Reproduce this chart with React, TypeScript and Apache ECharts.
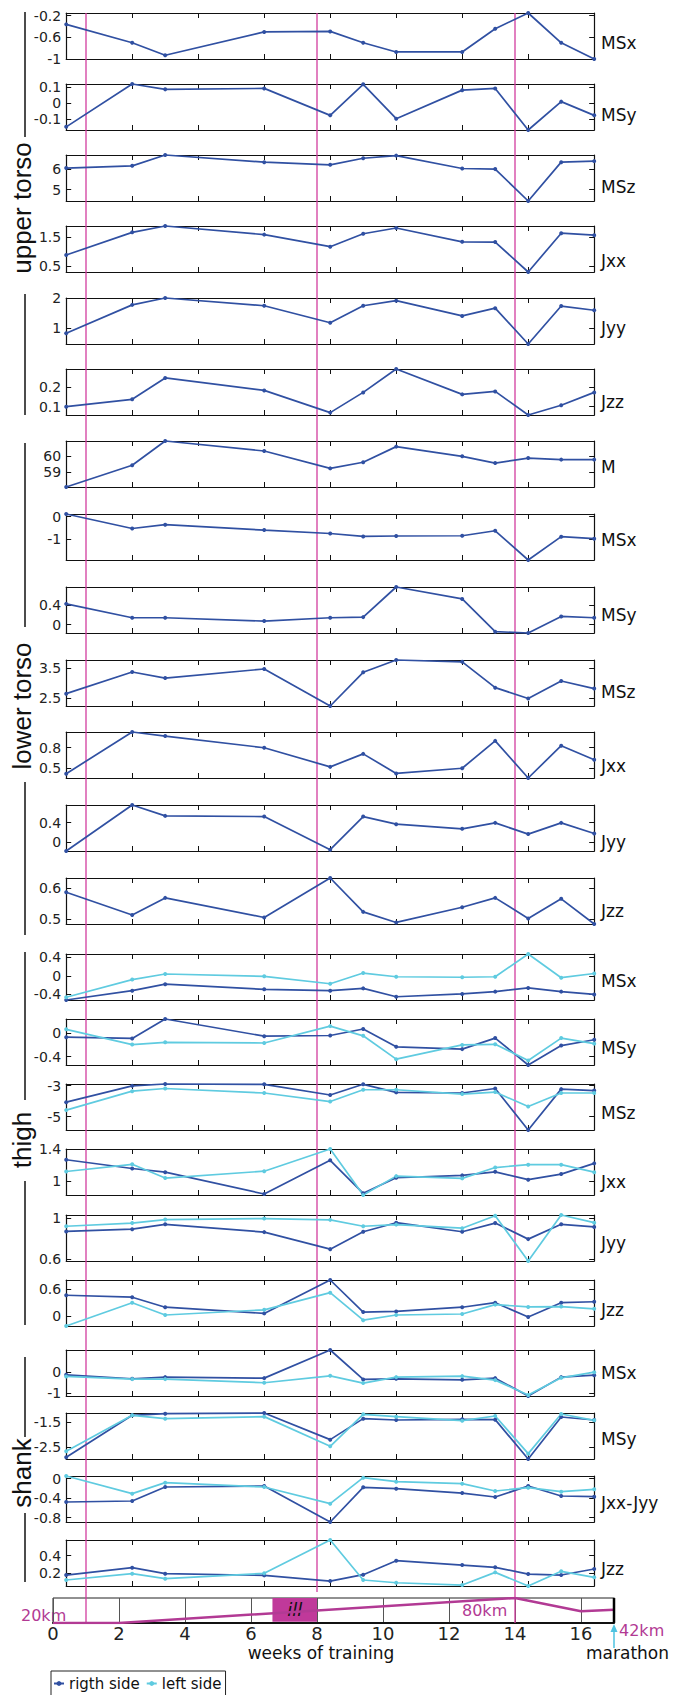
import React, { useEffect, useRef } from "react";
import * as echarts from "echarts";

// ---------- data ----------
const weeks = [0.4, 2.4, 3.4, 6.4, 8.4, 9.4, 10.4, 12.4, 13.4, 14.4, 15.4, 16.4];
const panelTicksX = [2.4, 4.4, 6.4, 8.4, 10.4, 12.4, 14.4];

// upper torso (single series)
const upperMSx = [-0.36, -0.70, -0.93, -0.50, -0.49, -0.70, -0.87, -0.87, -0.44, -0.15, -0.70, -1.0];
const upperMSy = [-0.15, 0.122, 0.088, 0.094, -0.077, 0.12, -0.098, 0.083, 0.094, -0.17, 0.01, -0.077];
const upperMSz = [6.05, 6.16, 6.69, 6.34, 6.21, 6.53, 6.66, 6.03, 6.0, 4.44, 6.34, 6.39];
const upperJxx = [0.88, 1.67, 1.89, 1.59, 1.17, 1.62, 1.82, 1.34, 1.33, 0.29, 1.64, 1.57];
const upperJyy = [0.82, 1.77, 2.0, 1.74, 1.17, 1.74, 1.91, 1.4, 1.66, 0.46, 1.73, 1.59];
const upperJzz = [0.1, 0.137, 0.245, 0.182, 0.07, 0.172, 0.29, 0.162, 0.177, 0.058, 0.107, 0.172];
// lower torso (single series)
const lowerM = [58.04, 59.43, 60.98, 60.34, 59.23, 59.62, 60.62, 60.0, 59.57, 59.89, 59.79, 59.79];
const lowerMSx = [0.12, -0.52, -0.35, -0.59, -0.74, -0.87, -0.85, -0.84, -0.62, -1.91, -0.88, -0.97];
const lowerMSy = [0.42, 0.14, 0.14, 0.073, 0.14, 0.153, 0.76, 0.52, -0.14, -0.167, 0.167, 0.14];
const lowerMSz = [2.64, 3.36, 3.16, 3.46, 2.23, 3.35, 3.76, 3.7, 2.84, 2.48, 3.06, 2.81];
const lowerJxx = [0.42, 1.03, 0.97, 0.8, 0.52, 0.71, 0.424, 0.5, 0.9, 0.357, 0.83, 0.624];
const lowerJyy = [-0.183, 0.759, 0.536, 0.522, -0.156, 0.522, 0.366, 0.271, 0.393, 0.163, 0.393, 0.176];
const lowerJzz = [0.586, 0.513, 0.568, 0.505, 0.632, 0.523, 0.489, 0.538, 0.568, 0.502, 0.565, 0.484];
// thigh (right / left)
const thighMSxR = [-0.52, -0.32, -0.18, -0.29, -0.32, -0.27, -0.45, -0.39, -0.34, -0.26, -0.34, -0.4];
const thighMSxL = [-0.46, -0.08, 0.04, -0.01, -0.17, 0.06, -0.02, -0.03, -0.02, 0.47, -0.04, 0.05];
const thighMSyR = [-0.067, -0.089, 0.244, -0.05, -0.039, 0.072, -0.233, -0.272, -0.083, -0.544, -0.211, -0.111];
const thighMSyL = [0.067, -0.194, -0.156, -0.167, 0.122, -0.044, -0.444, -0.2, -0.189, -0.467, -0.083, -0.178];
const thighMSzR = [-4.07, -3.02, -2.9, -2.92, -3.61, -2.92, -3.44, -3.48, -3.19, -5.86, -3.23, -3.32];
const thighMSzL = [-4.58, -3.36, -3.19, -3.48, -4.03, -3.27, -3.27, -3.55, -3.42, -4.35, -3.48, -3.48];
const thighJxxR = [1.267, 1.158, 1.113, 0.842, 1.26, 0.851, 1.044, 1.073, 1.117, 1.02, 1.089, 1.222];
const thighJxxL = [1.121, 1.21, 1.04, 1.125, 1.4, 0.83, 1.064, 1.036, 1.17, 1.206, 1.206, 1.113];
const thighJyyR = [0.87, 0.892, 0.94, 0.863, 0.695, 0.867, 0.956, 0.867, 0.952, 0.794, 0.94, 0.914];
const thighJyyL = [0.921, 0.952, 0.987, 0.997, 0.984, 0.921, 0.937, 0.902, 1.025, 0.578, 1.032, 0.956];
const thighJzzR = [0.464, 0.421, 0.2, 0.064, 0.8, 0.093, 0.107, 0.2, 0.3, -0.014, 0.3, 0.321];
const thighJzzL = [-0.214, 0.3, 0.029, 0.143, 0.521, -0.086, 0.029, 0.05, 0.257, 0.207, 0.214, 0.164];
// shank (right / left)
const shankMSxR = [-0.127, -0.317, -0.238, -0.286, 1.063, -0.349, -0.317, -0.365, -0.286, -1.143, -0.238, -0.143];
const shankMSxL = [-0.206, -0.333, -0.333, -0.508, -0.175, -0.524, -0.238, -0.19, -0.381, -1.095, -0.27, 0.0];
const shankMSyR = [-2.895, -1.237, -1.171, -1.145, -2.197, -1.368, -1.421, -1.395, -1.408, -2.961, -1.303, -1.421];
const shankMSyL = [-2.658, -1.237, -1.368, -1.289, -2.461, -1.197, -1.289, -1.447, -1.263, -2.75, -1.184, -1.434];
const shankJdR = [-0.479, -0.459, -0.171, -0.151, -0.89, -0.178, -0.205, -0.295, -0.377, -0.151, -0.356, -0.37];
const shankJdL = [0.055, -0.308, -0.082, -0.171, -0.514, 0.021, -0.062, -0.103, -0.253, -0.185, -0.267, -0.219];
const shankJzzR = [0.181, 0.264, 0.196, 0.177, 0.113, 0.185, 0.343, 0.294, 0.268, 0.192, 0.181, 0.249];
const shankJzzL = [0.125, 0.196, 0.14, 0.2, 0.577, 0.125, 0.094, 0.068, 0.211, 0.057, 0.223, 0.155];

// y tick labels per panel
const tUpperMSx = [-1, -0.6, -0.2];
const tUpperMSy = [-0.1, 0, 0.1];
const tUpperMSz = [5, 6];
const tUpperJxx = [0.5, 1.5];
const tUpperJyy = [1, 2];
const tUpperJzz = [0.1, 0.2];
const tLowerM = [59, 60];
const tLowerMSx = [-1, 0];
const tLowerMSy = [0, 0.4];
const tLowerMSz = [2.5, 3.5];
const tLowerJxx = [0.5, 0.8];
const tLowerJyy = [0, 0.4];
const tLowerJzz = [0.5, 0.6];
const tThighMSx = [-0.4, 0, 0.4];
const tThighMSy = [-0.4, 0];
const tThighMSz = [-5, -3];
const tThighJxx = [1, 1.4];
const tThighJyy = [0.6, 1];
const tThighJzz = [0, 0.6];
const tShankMSx = [-1, 0];
const tShankMSy = [-2.5, -1.5];
const tShankJd = [-0.8, -0.4, 0];
const tShankJzz = [0.2, 0.4];

// training timeline
const timelineTicks = [0, 2, 4, 6, 8, 10, 12, 14, 16];
const trainingWeeks = [0, 2, 14, 16, 17];
const trainingKm = [20, 20, 80, 48, 52];
const illStart = 6.65;
const illEnd = 8;
const markerWeeks = [1, 8, 14];
const marathonWeek = 17;

const panels = [
  { name: "MSx", right: upperMSx, ticks: tUpperMSx },
  { name: "MSy", right: upperMSy, ticks: tUpperMSy },
  { name: "MSz", right: upperMSz, ticks: tUpperMSz },
  { name: "Jxx", right: upperJxx, ticks: tUpperJxx },
  { name: "Jyy", right: upperJyy, ticks: tUpperJyy },
  { name: "Jzz", right: upperJzz, ticks: tUpperJzz },
  { name: "M", right: lowerM, ticks: tLowerM },
  { name: "MSx", right: lowerMSx, ticks: tLowerMSx },
  { name: "MSy", right: lowerMSy, ticks: tLowerMSy },
  { name: "MSz", right: lowerMSz, ticks: tLowerMSz },
  { name: "Jxx", right: lowerJxx, ticks: tLowerJxx },
  { name: "Jyy", right: lowerJyy, ticks: tLowerJyy },
  { name: "Jzz", right: lowerJzz, ticks: tLowerJzz },
  { name: "MSx", right: thighMSxR, left: thighMSxL, ticks: tThighMSx },
  { name: "MSy", right: thighMSyR, left: thighMSyL, ticks: tThighMSy },
  { name: "MSz", right: thighMSzR, left: thighMSzL, ticks: tThighMSz },
  { name: "Jxx", right: thighJxxR, left: thighJxxL, ticks: tThighJxx },
  { name: "Jyy", right: thighJyyR, left: thighJyyL, ticks: tThighJyy },
  { name: "Jzz", right: thighJzzR, left: thighJzzL, ticks: tThighJzz },
  { name: "MSx", right: shankMSxR, left: shankMSxL, ticks: tShankMSx },
  { name: "MSy", right: shankMSyR, left: shankMSyL, ticks: tShankMSy },
  { name: "Jxx-Jyy", right: shankJdR, left: shankJdL, ticks: tShankJd },
  { name: "Jzz", right: shankJzzR, left: shankJzzL, ticks: tShankJzz },
];

// ---------- layout ----------
const W = 685;
const H = 1695;
const TL_LEFT = 53;
const WEEK_PX = 33;
const PANEL_LEFT = TL_LEFT + weeks[0] * WEEK_PX;
const PANEL_W = (weeks[weeks.length - 1] - weeks[0]) * WEEK_PX;
const PANEL_H = 46;
const panelTop = [13, 84, 155, 226, 298, 369, 441, 514, 587, 660, 732, 805, 878, 954, 1019, 1084, 1149, 1215, 1280, 1350, 1413, 1476, 1540];
const nameY = [43, 115, 187, 261, 328, 402, 467, 540, 615, 692, 766, 842, 911, 981, 1048, 1113, 1182, 1243, 1310, 1373, 1439, 1503, 1569];
const NAME_X = 601;
const TL_TOP = 1598;
const TL_H = 25;
const OVER_TOP = 13;
const OVER_BOTTOM = TL_TOP + TL_H;
const WEEK8_END = 1592;
const groups = [
  { label: "upper torso", textY: 208, lines: [[12, 137], [294, 415]] },
  { label: "lower torso", textY: 706, lines: [[443, 627], [782, 935]] },
  { label: "thigh", textY: 1140, lines: [[952, 1100], [1181, 1325]] },
  { label: "shank", textY: 1473, lines: [[1357, 1437], [1513, 1582]] },
];

const DARK = "#3050a2";
const CYAN = "#5fcbe0";
const MAGENTA = "#d23c9e";
const KM = "#b23a94";
const FONT = "'DejaVu Sans', 'Liberation Sans', sans-serif";
const GFONT = "'Liberation Sans', Arial, sans-serif";

function txt(text: string, x: number, y: number, size: number, color: string, align = "left", family = FONT, extra: any = {}) {
  return {
    type: "text",
    x,
    y,
    silent: true,
    ...extra,
    style: {
      text,
      fill: color,
      fontSize: size,
      fontFamily: family,
      textAlign: align,
      align,
      textVerticalAlign: "middle",
      verticalAlign: "middle",
    },
  };
}

function buildOption() {
  const grid: any[] = [];
  const xAxis: any[] = [];
  const yAxis: any[] = [];
  const series: any[] = [];
  const graphic: any[] = [];
  const frame = { color: "#111", width: 1.2 };

  panels.forEach((p, i) => {
    grid.push({ left: PANEL_LEFT, width: PANEL_W, top: panelTop[i], height: PANEL_H, outerBoundsMode: "none", containLabel: false });
    const all = p.left ? p.right.concat(p.left) : p.right;
    const min = Math.min(...all);
    const max = Math.max(...all);
    const xBase = {
      gridIndex: i,
      type: "value",
      min: weeks[0],
      max: weeks[weeks.length - 1],
      axisLine: { show: true, onZero: false, lineStyle: frame },
      axisTick: { show: true, inside: true, length: 5, customValues: panelTicksX, lineStyle: { color: "#111", width: 1 } },
      axisLabel: { show: false },
      splitLine: { show: false },
    };
    xAxis.push({ ...xBase, position: "bottom" }, { ...xBase, position: "top" });
    const yBase = {
      gridIndex: i,
      type: "value",
      min,
      max,
      axisLine: { show: true, onZero: false, lineStyle: frame },
      axisTick: { show: true, inside: true, length: 5, customValues: p.ticks, lineStyle: { color: "#111", width: 1 } },
      splitLine: { show: false },
    };
    yAxis.push(
      {
        ...yBase,
        position: "left",
        axisLabel: { show: true, customValues: p.ticks, fontSize: 14, fontFamily: FONT, color: "#222", margin: 5 },
      },
      { ...yBase, position: "right", axisLabel: { show: false } }
    );
    const mk = (vals: number[], name: string, color: string) => ({
      type: "line",
      name,
      xAxisIndex: 2 * i,
      yAxisIndex: 2 * i,
      data: weeks.map((w, k) => [w, vals[k]]),
      symbol: "circle",
      symbolSize: 4,
      clip: false,
      z: 3,
      silent: true,
      lineStyle: { color, width: 1.7 },
      itemStyle: { color },
    });
    series.push(mk(p.right, "rigth side", DARK));
    if (p.left) series.push(mk(p.left, "left side", CYAN));
    graphic.push(txt(p.name, NAME_X, nameY[i], 17, "#111"));
  });

  // overlay grid for the magenta week markers
  const oIdx = panels.length;
  grid.push({ left: TL_LEFT, width: 17 * WEEK_PX, top: OVER_TOP, height: OVER_BOTTOM - OVER_TOP, outerBoundsMode: "none" });
  xAxis.push({ gridIndex: oIdx, type: "value", min: 0, max: 17, show: false });
  yAxis.push({ gridIndex: oIdx, type: "value", min: 0, max: 1, inverse: true, show: false });
  markerWeeks.forEach((w) => {
    const end = w === 8 ? (WEEK8_END - OVER_TOP) / (OVER_BOTTOM - OVER_TOP) : 1;
    series.push({
      type: "line",
      name: "marker",
      xAxisIndex: 2 * oIdx,
      yAxisIndex: 2 * oIdx,
      data: [[w, 0], [w, end]],
      symbol: "none",
      silent: true,
      z: 1,
      lineStyle: { color: MAGENTA, width: 1.3 },
    });
  });

  // timeline grid
  const tIdx = oIdx + 1;
  const tx = 2 * oIdx + 1;
  grid.push({ left: TL_LEFT, width: 17 * WEEK_PX, top: TL_TOP, height: TL_H, show: true, borderColor: "#222", borderWidth: 1, outerBoundsMode: "none" });
  xAxis.push({
    gridIndex: tIdx,
    type: "value",
    min: 0,
    max: 17,
    interval: 2,
    axisLine: { show: true, onZero: false, lineStyle: { color: "#111", width: 2 } },
    axisTick: { show: false },
    splitLine: { show: true, lineStyle: { color: "#555", width: 1 } },
    axisLabel: { show: true, customValues: timelineTicks, fontSize: 18, fontFamily: FONT, color: "#222", margin: 1 },
  });
  yAxis.push({ gridIndex: tIdx, type: "value", min: 20, max: 80, show: false });
  series.push({
    type: "line",
    name: "km",
    xAxisIndex: tx,
    yAxisIndex: tx,
    data: trainingWeeks.map((w, k) => [w, trainingKm[k]]),
    symbol: "none",
    silent: true,
    z: 3,
    lineStyle: { color: KM, width: 2.5 },
  });
  series.push({
    type: "line",
    name: "ill",
    xAxisIndex: tx,
    yAxisIndex: tx,
    data: [[(illStart + illEnd) / 2, 50]],
    symbol: "none",
    silent: true,
    z: 4,
    lineStyle: { opacity: 0 },
    markArea: {
      silent: true,
      itemStyle: { color: "#c0399a", opacity: 1 },
      label: { show: true, position: "inside", formatter: "ill", color: "#111", fontStyle: "italic", fontSize: 18, fontFamily: FONT },
      data: [[{ xAxis: illStart, yAxis: 23 }, { xAxis: illEnd, yAxis: 80 }]],
    },
  });
  series.push({
    type: "line",
    name: "end",
    xAxisIndex: tx,
    yAxisIndex: tx,
    data: [[marathonWeek, 20], [marathonWeek, 80]],
    symbol: "none",
    silent: true,
    z: 5,
    lineStyle: { color: "#000", width: 2.5 },
  });
  series.push({
    type: "line",
    name: "arrow",
    xAxisIndex: tx,
    yAxisIndex: tx,
    data: [[marathonWeek, 80], [marathonWeek + 0.76, 50], [marathonWeek, 20]],
    symbol: "none",
    silent: true,
    clip: false,
    z: 5,
    lineStyle: { color: "#111", width: 1 },
  });

  // group labels + brackets
  groups.forEach((g) => {
    graphic.push(txt(g.label, 21.5, g.textY, 26, "#111", "center", GFONT, { rotation: Math.PI / 2 }));
    g.lines.forEach(([a, b]) => {
      graphic.push({ type: "line", silent: true, shape: { x1: 25, y1: a, x2: 25, y2: b }, style: { stroke: "#111", lineWidth: 1.5 } });
    });
  });

  // timeline annotations
  const mx = TL_LEFT + marathonWeek * WEEK_PX;
  graphic.push(txt("20km", 21, 1615, 16, KM));
  graphic.push(txt("80km", 462, 1610, 16, KM));
  graphic.push(txt("42km", mx + 5, 1630, 16, KM));
  graphic.push(txt("marathon", 586, 1653, 17, "#111"));
  graphic.push(txt("weeks of training", 321, 1653, 17, "#111", "center"));
  graphic.push({ type: "line", silent: true, shape: { x1: mx, y1: 1648, x2: mx, y2: 1629 }, style: { stroke: "#4ec3e0", lineWidth: 1.5 } });
  graphic.push({ type: "polygon", silent: true, shape: { points: [[mx, 1624], [mx - 3.5, 1632], [mx + 3.5, 1632]] }, style: { fill: "#4ec3e0" } });

  return {
    animation: false,
    backgroundColor: "#fff",
    grid,
    xAxis,
    yAxis,
    series,
    graphic,
    legend: {
      left: 51,
      top: 1671,
      data: ["rigth side", "left side"],
      selectedMode: false,
      borderColor: "#222",
      borderWidth: 1,
      padding: [5, 4, 8, 2],
      itemGap: 6,
      itemWidth: 10,
      itemHeight: 6,
      textStyle: { fontSize: 15, fontFamily: FONT, color: "#111" },
    },
  };
}

export default function App() {
  const ref = useRef<HTMLDivElement>(null);
  useEffect(() => {
    document.body.style.margin = "0";
    const chart = echarts.init(ref.current!, null, { renderer: "svg" });
    chart.setOption(buildOption() as any);
    return () => chart.dispose();
  }, []);
  return <div ref={ref} style={{ width: W, height: H, background: "#fff" }} />;
}
